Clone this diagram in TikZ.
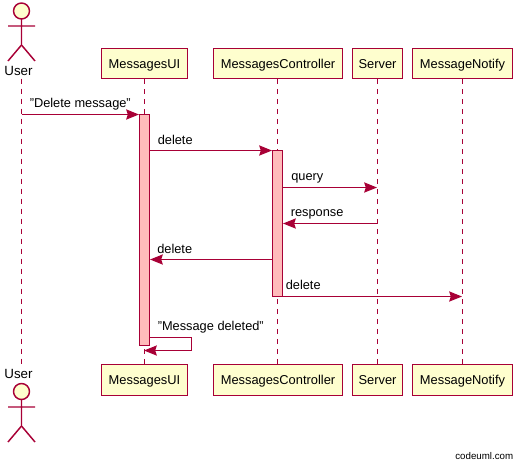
\documentclass[tikz,border=0pt]{standalone}
\usepackage{fontspec}
\setmainfont{Liberation Sans}
\usetikzlibrary{arrows.meta}
\definecolor{umlline}{HTML}{A80036}
\definecolor{umlfill}{HTML}{FEFECE}
\definecolor{umlact}{HTML}{FFBBBB}
\tikzset{
  part/.style={draw=umlline,fill=umlfill,line width=0.85pt,minimum height=22.8pt,inner sep=0pt,anchor=center,font=\fontsize{9.65}{12}\selectfont,text=black,text height=7.2pt,text depth=0pt},
  lifeline/.style={draw=umlline,line width=0.8pt,dash pattern=on 3.75pt off 3.75pt},
  msg/.style={draw=umlline,line width=0.8pt,-{Stealth[length=9.6pt,width=7.6pt,inset=1.2pt,fill=umlline]}},
  actbar/.style={draw=umlline,fill=umlact,line width=0.8pt},
  actorline/.style={draw=umlline,line width=1.1pt},
  lbl/.style={font=\fontsize{9.6}{12}\selectfont,text=black,inner sep=0pt,anchor=base west},
  actorname/.style={font=\fontsize{10}{12}\selectfont,text=black,inner sep=0pt,anchor=base},
}
\begin{document}
\begin{tikzpicture}[x=0.75pt,y=-0.75pt]
\useasboundingbox (0,0) rectangle (517,464);
% participants
\node[part,minimum width=64.5pt] (uiT) at (144.5,63.5) {MessagesUI};
\node[part,minimum width=96.75pt] (ctT) at (278,63.5) {MessagesController};
\node[part,minimum width=37.5pt] (svT) at (377.5,63.5) {Server};
\node[part,minimum width=75pt] (mnT) at (462.5,63.5) {MessageNotify};
\node[part,minimum width=64.5pt] (uiB) at (144.5,380) {MessagesUI};
\node[part,minimum width=96.75pt] (ctB) at (278,380) {MessagesController};
\node[part,minimum width=37.5pt] (svB) at (377.5,380) {Server};
\node[part,minimum width=75pt] (mnB) at (462.5,380) {MessageNotify};
% actor names
\node[actorname] (usT) at (18.5,75) {User};
\node[actorname] (usB) at (18.5,378) {User};
\coordinate (usLT) at (21.5,78.5);
\coordinate (usLB) at (21.5,364);
% lifelines
\draw[lifeline] (usLT) -- (usLB);
\draw[lifeline] (uiT.south) -- (uiB.north);
\draw[lifeline] ([xshift=-0.375pt]ctT.south) -- ([xshift=-0.375pt]ctB.north);
\draw[lifeline] (svT.south) -- (svB.north);
\draw[lifeline] (mnT.south) -- (mnB.north);
% activations
\draw[actbar] (139.5,114.5) rectangle (149.5,345.5);
\draw[actbar] (272.5,150.5) rectangle (282.5,296.5);
\coordinate (a1) at (21.5,114.5);   \coordinate (a2) at (139,114.5);
\coordinate (b1) at (149.5,150.5);  \coordinate (b2) at (272,150.5);
\coordinate (c1) at (282.5,187.5);  \coordinate (c2) at (377,187.5);
\coordinate (d1) at (377.5,223.5);  \coordinate (d2) at (283,223.5);
\coordinate (e1) at (272.5,259.5);  \coordinate (e2) at (150,259.5);
\coordinate (f1) at (282.5,296.5);  \coordinate (f2) at (462,296.5);
\coordinate (g1) at (149.5,337.5);  \coordinate (g2) at (191.5,337.5);
\coordinate (g3) at (191.5,350.5);  \coordinate (g4) at (144,350.5);
% messages
\draw[msg] (a1) -- (a2);
\draw[msg] (b1) -- (b2);
\draw[msg] (c1) -- (c2);
\draw[msg] (d1) -- (d2);
\draw[msg] (e1) -- (e2);
\draw[msg] (f1) -- (f2);
\draw[msg] (g1) -- (g2) -- (g3) -- (g4);
% labels
\node[lbl] at (29.5,107) {"Delete message"};
\node[lbl] at (157.5,144) {delete};
\node[lbl] at (291,180.5) {query};
\node[lbl] at (290.5,216.5) {response};
\node[lbl] at (157,253) {delete};
\node[lbl] at (285.5,289) {delete};
\node[lbl] at (157.5,330) {"Message deleted"};
% actors
\draw[actorline,fill=umlfill] (21.5,11) circle (6pt);
\draw[actorline] (21.5,19) -- (21.5,45) (8,26) -- (35,26) (8,61) -- (21.5,45) -- (35,61);
\draw[actorline,fill=umlfill] (21.5,391.5) circle (6pt);
\draw[actorline] (21.5,399.5) -- (21.5,426) (8,407) -- (35,407) (8,442) -- (21.5,426) -- (35,442);
% watermark
\node[font=\fontsize{7.3}{10}\selectfont,text=black,inner sep=0pt,anchor=base east] at (513.5,459) {codeuml.com};
\end{tikzpicture}
\end{document}
